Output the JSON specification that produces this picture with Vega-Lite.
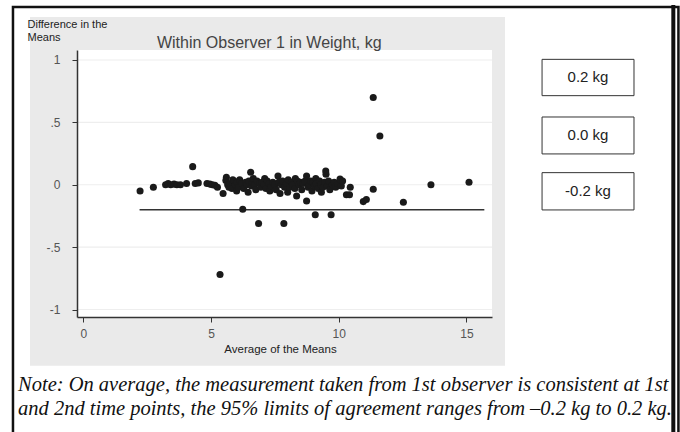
{
  "$schema": "https://vega.github.io/schema/vega-lite/v6.json",
  "width": 415,
  "height": 267,
  "autosize": {"type": "none"},
  "padding": {"left": 77, "top": 50, "right": 188, "bottom": 115},
  "background": "white",
  "config": {"view": {"stroke": null}, "font": "Liberation Sans"},
  "encoding": {
    "x": {
      "field": "x",
      "type": "quantitative",
      "scale": {"domain": [-0.25, 16], "nice": false, "zero": false},
      "axis": {
        "values": [0, 5, 10, 15],
        "grid": false,
        "zindex": 1,
        "domainColor": "#333333",
        "domainWidth": 1.5,
        "tickColor": "#333333",
        "tickSize": 5,
        "labelFontSize": 12,
        "labelColor": "#555555",
        "labelPadding": 6,
        "labelFlush": false,
        "title": "Average of the Means",
        "titleFontSize": 11.5,
        "titleFontWeight": "normal",
        "titleColor": "#222222",
        "titleX": 203,
        "titleY": 35,
        "titleBaseline": "alphabetic"
      }
    },
    "y": {
      "field": "y",
      "type": "quantitative",
      "scale": {"domain": [-1.06, 1.08], "nice": false, "zero": false},
      "axis": {
        "values": [-1, -0.5, 0, 0.5, 1],
        "labelExpr": "datum.value == 1 ? '1' : datum.value == 0.5 ? '.5' : datum.value == 0 ? '0' : datum.value == -0.5 ? '-.5' : '-1'",
        "grid": false,
        "zindex": 1,
        "domainColor": "#333333",
        "domainWidth": 1.5,
        "tickColor": "#333333",
        "tickSize": 5,
        "labelFontSize": 12,
        "labelColor": "#555555",
        "labelPadding": 12,
        "labelFlush": false,
        "title": ["Difference in the", "Means"],
        "titleAngle": 0,
        "titleAlign": "left",
        "titleBaseline": "top",
        "titleFontSize": 11,
        "titleFontWeight": "normal",
        "titleColor": "#222222",
        "titleLineHeight": 13,
        "titleX": -50,
        "titleY": -32
      }
    }
  },
  "layer": [
    {
      "data": {"values": [{"x": -2.09, "x2": 16.51, "y": 1.345, "y2": -1.45}]},
      "mark": {"type": "rect", "fill": "#eaeaea", "stroke": null},
      "encoding": {"x2": {"field": "x2"}, "y2": {"field": "y2"}}
    },
    {
      "data": {"values": [{"x": -0.25, "x2": 16, "y": 1.08, "y2": -1.06}]},
      "mark": {"type": "rect", "fill": "white", "stroke": null},
      "encoding": {"x2": {"field": "x2"}, "y2": {"field": "y2"}}
    },
    {
      "data": {"values": [
        {"x": -0.25, "x2": 16, "y": 1},
        {"x": -0.25, "x2": 16, "y": 0.5},
        {"x": -0.25, "x2": 16, "y": 0},
        {"x": -0.25, "x2": 16, "y": -0.5},
        {"x": -0.25, "x2": 16, "y": -1}
      ]},
      "mark": {"type": "rule", "color": "#eeeeee", "strokeWidth": 1.2},
      "encoding": {"x2": {"field": "x2"}}
    },
    {
      "data": {"values": [{"x": 2.2, "x2": 15.7, "y": -0.2}]},
      "mark": {"type": "rule", "color": "#333333", "strokeWidth": 1.5},
      "encoding": {"x2": {"field": "x2"}}
    },
    {
      "data": {"values": [
        {"x": 2.22, "y": -0.05}, {"x": 2.74, "y": -0.02}, {"x": 3.22, "y": 0.0}, {"x": 3.32, "y": 0.01},
        {"x": 3.42, "y": 0.0}, {"x": 3.55, "y": 0.005}, {"x": 3.66, "y": 0.0}, {"x": 3.8, "y": 0.0},
        {"x": 4.04, "y": 0.01}, {"x": 4.28, "y": 0.145}, {"x": 4.38, "y": 0.01}, {"x": 4.5, "y": 0.015},
        {"x": 4.84, "y": 0.01}, {"x": 4.95, "y": 0.005}, {"x": 5.05, "y": 0.0}, {"x": 5.15, "y": -0.005},
        {"x": 5.25, "y": -0.02}, {"x": 5.35, "y": -0.72}, {"x": 5.47, "y": -0.07}, {"x": 5.6, "y": 0.06},
        {"x": 5.58, "y": 0.035}, {"x": 5.65, "y": 0.0}, {"x": 5.7, "y": -0.02}, {"x": 5.75, "y": 0.01},
        {"x": 5.82, "y": -0.03}, {"x": 5.85, "y": 0.04}, {"x": 5.9, "y": 0.03}, {"x": 5.95, "y": 0.0},
        {"x": 6.0, "y": -0.05}, {"x": 6.02, "y": 0.02}, {"x": 6.08, "y": -0.02}, {"x": 6.12, "y": 0.04},
        {"x": 6.2, "y": 0.01}, {"x": 6.24, "y": -0.196}, {"x": 6.28, "y": -0.03}, {"x": 6.35, "y": 0.02},
        {"x": 6.4, "y": 0.0}, {"x": 6.45, "y": -0.06}, {"x": 6.48, "y": 0.03}, {"x": 6.55, "y": 0.1},
        {"x": 6.58, "y": -0.01}, {"x": 6.62, "y": 0.02}, {"x": 6.65, "y": 0.05}, {"x": 6.7, "y": 0.0},
        {"x": 6.75, "y": -0.04}, {"x": 6.8, "y": 0.03}, {"x": 6.86, "y": -0.31}, {"x": 6.9, "y": 0.01},
        {"x": 6.95, "y": -0.02}, {"x": 7.0, "y": 0.02}, {"x": 7.08, "y": 0.0}, {"x": 7.1, "y": 0.05},
        {"x": 7.15, "y": -0.03}, {"x": 7.2, "y": 0.03}, {"x": 7.28, "y": 0.01}, {"x": 7.3, "y": -0.05},
        {"x": 7.35, "y": -0.01}, {"x": 7.42, "y": 0.02}, {"x": 7.5, "y": 0.0}, {"x": 7.55, "y": -0.04},
        {"x": 7.62, "y": 0.07}, {"x": 7.65, "y": 0.02}, {"x": 7.7, "y": -0.07}, {"x": 7.75, "y": 0.0},
        {"x": 7.8, "y": 0.03}, {"x": 7.85, "y": -0.31}, {"x": 7.88, "y": -0.02}, {"x": 7.95, "y": 0.01},
        {"x": 8.0, "y": -0.06}, {"x": 8.02, "y": 0.04}, {"x": 8.08, "y": -0.02}, {"x": 8.15, "y": 0.02},
        {"x": 8.2, "y": 0.0}, {"x": 8.28, "y": -0.03}, {"x": 8.3, "y": 0.05}, {"x": 8.35, "y": -0.09},
        {"x": 8.38, "y": 0.03}, {"x": 8.45, "y": 0.0}, {"x": 8.5, "y": 0.02}, {"x": 8.55, "y": -0.04},
        {"x": 8.6, "y": 0.01}, {"x": 8.68, "y": 0.03}, {"x": 8.74, "y": 0.07}, {"x": 8.74, "y": -0.13},
        {"x": 8.8, "y": -0.02}, {"x": 8.85, "y": 0.0}, {"x": 8.9, "y": 0.03}, {"x": 8.95, "y": -0.05},
        {"x": 9.0, "y": 0.02}, {"x": 9.05, "y": -0.01}, {"x": 9.08, "y": -0.24}, {"x": 9.1, "y": 0.05},
        {"x": 9.12, "y": 0.01}, {"x": 9.2, "y": -0.03}, {"x": 9.25, "y": 0.03}, {"x": 9.3, "y": 0.0},
        {"x": 9.32, "y": -0.06}, {"x": 9.38, "y": -0.02}, {"x": 9.45, "y": 0.02}, {"x": 9.49, "y": 0.11},
        {"x": 9.5, "y": 0.085}, {"x": 9.55, "y": -0.01}, {"x": 9.6, "y": 0.03}, {"x": 9.65, "y": -0.04},
        {"x": 9.7, "y": -0.24}, {"x": 9.75, "y": 0.0}, {"x": 9.82, "y": 0.02}, {"x": 9.88, "y": -0.02},
        {"x": 9.95, "y": 0.01}, {"x": 10.05, "y": 0.045}, {"x": 10.1, "y": -0.01}, {"x": 10.15, "y": 0.03},
        {"x": 10.3, "y": -0.08}, {"x": 10.42, "y": -0.08}, {"x": 10.45, "y": -0.02}, {"x": 10.96, "y": -0.135},
        {"x": 11.08, "y": -0.118}, {"x": 11.35, "y": -0.036}, {"x": 11.35, "y": 0.7}, {"x": 11.61, "y": 0.39},
        {"x": 12.53, "y": -0.14}, {"x": 13.61, "y": 0.0}, {"x": 15.1, "y": 0.02}
      ]},
      "mark": {"type": "circle", "size": 50, "color": "#1a1a1a", "opacity": 1}
    },
    {
      "data": {"values": [{"x": 2.88, "y": 1.1, "label": "Within Observer 1 in Weight, kg"}]},
      "mark": {"type": "text", "fontSize": 16, "color": "#444444", "align": "left", "baseline": "alphabetic", "font": "Liberation Sans"},
      "encoding": {"text": {"field": "label"}}
    },
    {
      "data": {"values": [
        {"x": 17.96, "x2": 21.56, "y": 1.005, "y2": 0.714},
        {"x": 17.96, "x2": 21.56, "y": 0.543, "y2": 0.247},
        {"x": 17.96, "x2": 21.56, "y": 0.097, "y2": -0.202}
      ]},
      "mark": {"type": "rect", "fill": "white", "stroke": "#333333", "strokeWidth": 1},
      "encoding": {"x2": {"field": "x2"}, "y2": {"field": "y2"}}
    },
    {
      "data": {"values": [
        {"x": 19.76, "y": 0.86, "label": "0.2 kg"},
        {"x": 19.76, "y": 0.395, "label": "0.0 kg"},
        {"x": 19.76, "y": -0.052, "label": "-0.2 kg"}
      ]},
      "mark": {"type": "text", "fontSize": 15, "color": "#222222", "align": "center", "baseline": "middle", "font": "Liberation Sans"},
      "encoding": {"text": {"field": "label"}}
    },
    {
      "data": {"values": [
        {"x": -2.56, "y": -1.604, "label": "Note: On average, the measurement taken from 1st observer is consistent at 1st"},
        {"x": -2.56, "y": -1.797, "label": "and 2nd time points, the 95% limits of agreement ranges from –0.2 kg to 0.2 kg."}
      ]},
      "mark": {"type": "text", "fontSize": 20.5, "fontStyle": "italic", "font": "Liberation Serif", "color": "#111111", "align": "left", "baseline": "middle"},
      "encoding": {"text": {"field": "label"}}
    },
    {
      "data": {"values": [{"x": -2.757, "x2": 23.3, "y": 1.425, "y2": -2.1}]},
      "mark": {"type": "rect", "fill": null, "fillOpacity": 0, "stroke": "#111111", "strokeWidth": 2.5},
      "encoding": {"x2": {"field": "x2"}, "y2": {"field": "y2"}}
    },
    {
      "data": {"values": [{"x": 23.1, "y": 1.44, "y2": -2.1}]},
      "mark": {"type": "rule", "color": "#111111", "strokeWidth": 4},
      "encoding": {"y2": {"field": "y2"}}
    }
  ]
}
